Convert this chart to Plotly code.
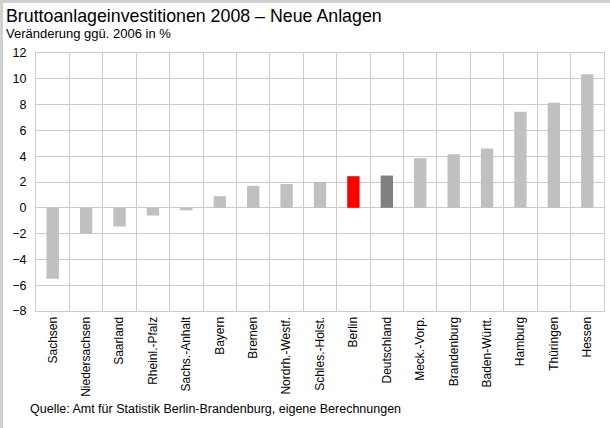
import plotly.graph_objects as go

laender = ['Sachsen', 'Niedersachsen', 'Saarland', 'Rheinl.-Pfalz', 'Sachs.-Anhalt',
           'Bayern', 'Bremen', 'Nordrh.-Westf.', 'Schles.-Holst.', 'Berlin',
           'Deutschland', 'Meck.-Vorp.', 'Brandenburg', 'Baden-Württ.', 'Hamburg',
           'Thüringen', 'Hessen']
veraenderung = [-5.5, -2.0, -1.45, -0.6, -0.2, 0.9, 1.7, 1.85, 2.0, 2.45,
                2.5, 3.85, 4.15, 4.6, 7.45, 8.15, 10.35]
y_ticks = list(range(-8, 13, 2))

farben = []
for land in laender:
    if land == 'Berlin':
        farben.append('#ff0000')
    elif land == 'Deutschland':
        farben.append('#808080')
    else:
        farben.append('#c0c0c0')

font = 'Liberation Sans, Arial, sans-serif'

fig = go.Figure()
fig.add_trace(go.Bar(
    x=laender,
    y=veraenderung,
    marker_color=farben,
    marker_line_width=0,
    width=0.37
))

# left/top gray frame of the picture
frame = dict(type='rect', xref='paper', yref='paper', line_width=0, fillcolor='#d0d0d0',
             layer='above')
fig.add_shape(frame, x0=(0 - 36) / 569, x1=(3 - 36) / 569, y0=311 / 258, y1=(311 - 430) / 258)
fig.add_shape(frame, x0=(0 - 36) / 569, x1=(612 - 36) / 569, y0=311 / 258, y1=(311 - 3) / 258)

fig.update_layout(
    width=610,
    height=428,
    margin=dict(l=36, r=6, t=53, b=117),
    paper_bgcolor='white',
    plot_bgcolor='white',
    showlegend=False,
    font=dict(family=font, color='black', size=12),
    bargap=0.63,
    xaxis=dict(
        type='category',
        tickson='boundaries',
        tickangle=-90,
        tickfont=dict(size=12),
        showgrid=True,
        gridcolor='#cccccc',
        gridwidth=1,
        showline=True,
        linecolor='#cccccc',
        mirror=True,
        ticks='',
        fixedrange=True
    ),
    yaxis=dict(
        range=[-8, 12],
        tickvals=y_ticks,
        tickfont=dict(size=12.5),
        showgrid=True,
        gridcolor='#cccccc',
        gridwidth=1,
        zeroline=False,
        showline=True,
        linecolor='#cccccc',
        mirror=True,
        ticks='',
        ticklabelstandoff=6
    ),
    annotations=[
        dict(text='Bruttoanlageinvestitionen 2008 – Neue Anlagen', xref='paper', yref='paper',
             x=(4 - 36) / 569, y=(311 - 28) / 258, xanchor='left', yanchor='bottom',
             showarrow=False, font=dict(size=17.8)),
        dict(text='Veränderung ggü. 2006 in %', xref='paper', yref='paper',
             x=(4 - 36) / 569, y=(311 - 43) / 258, xanchor='left', yanchor='bottom',
             showarrow=False, font=dict(size=13)),
        dict(text='Quelle: Amt für Statistik Berlin-Brandenburg, eigene Berechnungen', xref='paper',
             yref='paper', x=(28 - 36) / 569, y=(311 - 418) / 258, xanchor='left',
             yanchor='bottom', showarrow=False, font=dict(size=12.5))
    ]
)

fig.write_html('out.html', config={'displayModeBar': False},
               post_script="document.body.style.margin='0';")
